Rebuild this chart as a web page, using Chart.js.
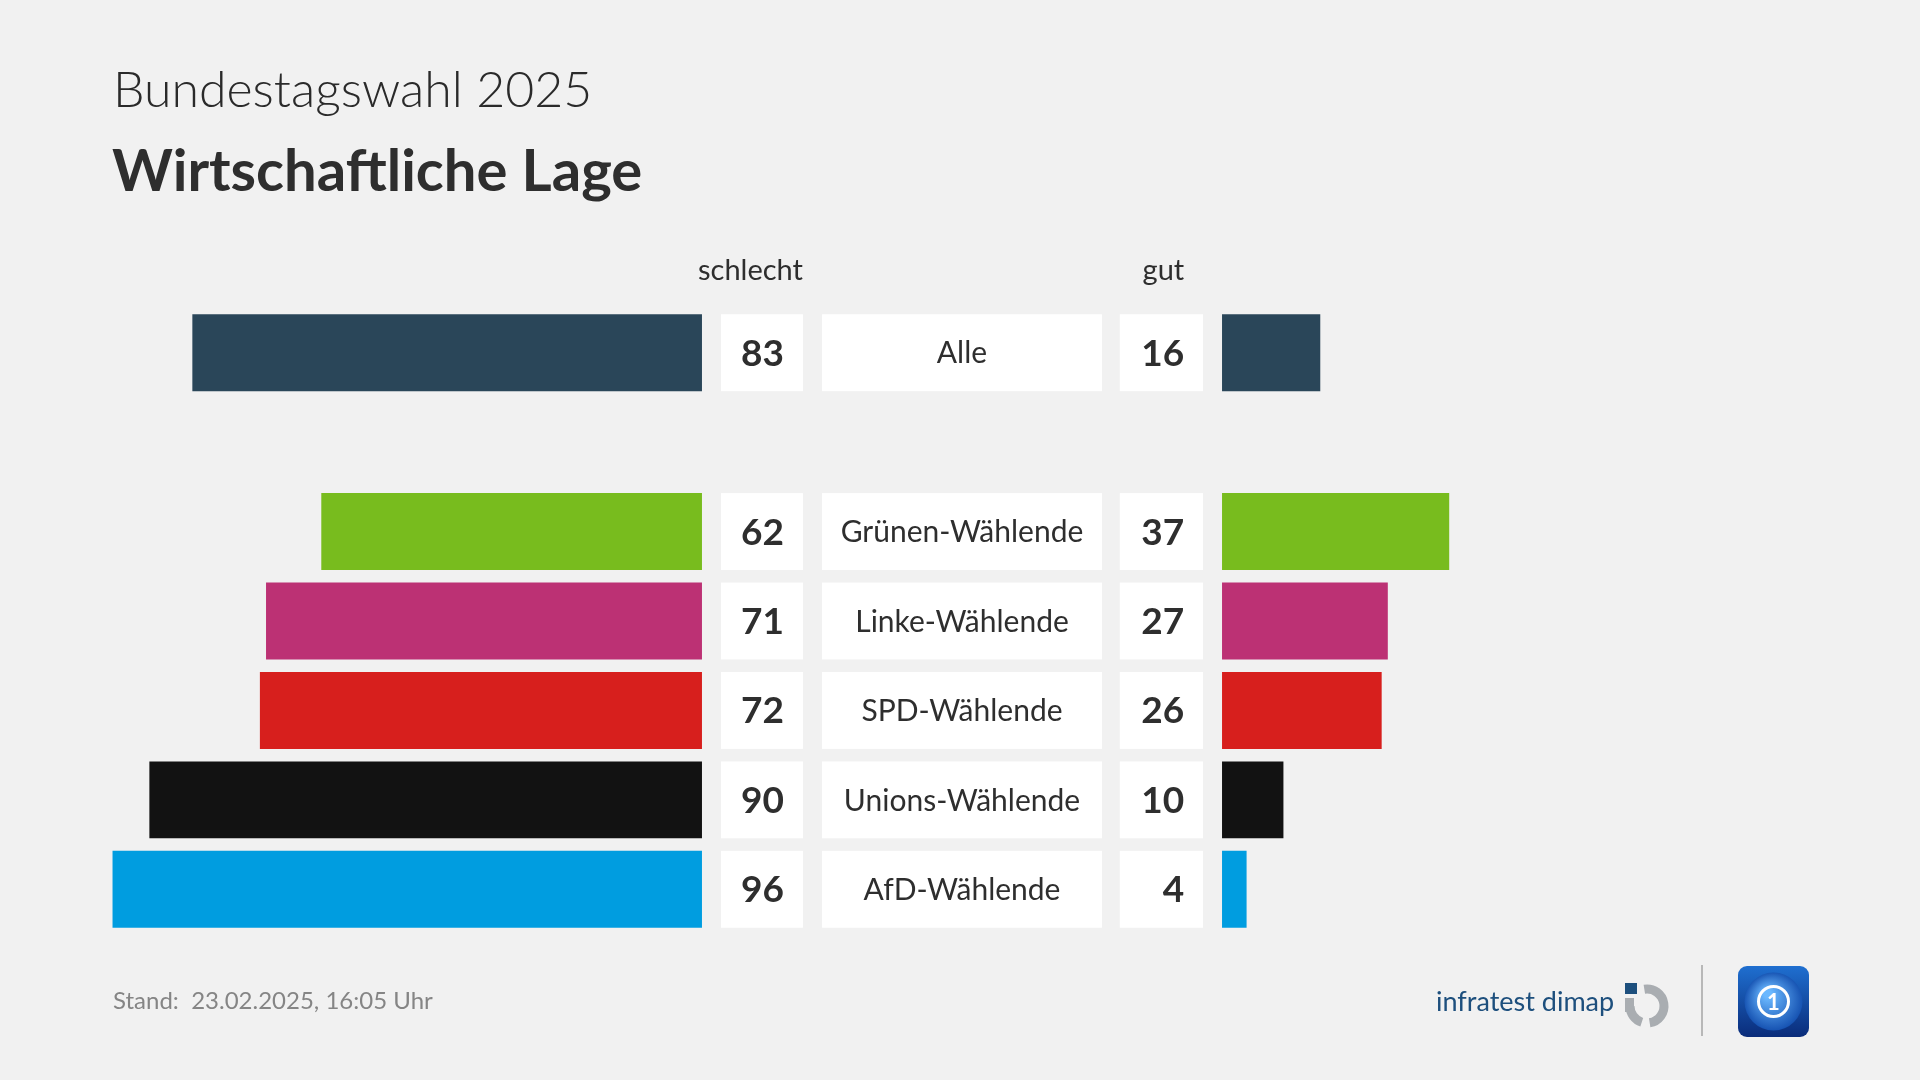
<!DOCTYPE html>
<html>
<head>
<meta charset="utf-8">
<script src="https://cdn.jsdelivr.net/npm/chart.js@4.4.1/dist/chart.umd.min.js"></script>
<style>
  html, body { margin: 0; padding: 0; background: #f1f1f1; }
  body { width: 1920px; height: 1080px; position: relative; overflow: hidden; font-family: Lato, "Open Sans", sans-serif; }
  #wrap { position: absolute; left: 0; top: 0; width: 1920px; height: 1080px; }
  .t { position: absolute; white-space: nowrap; color: #2e2e2e; }
  #sub { left: 113px; top: 58px; font-size: 50px; font-weight: 300; color: #2a2a2a; }
  #title { left: 112px; top: 134px; font-size: 58px; font-weight: 700; }
  #stand { left: 113px; top: 985px; font-size: 24px; color: #858585; }
  #infra { left: 1436px; top: 984px; font-size: 27px; color: #1d4f7d; font-weight: 400; }
</style>
</head>
<body>
<div id="wrap"><canvas id="c" width="1920" height="1080"></canvas></div>
<div class="t" id="sub">Bundestagswahl 2025</div>
<div class="t" id="title">Wirtschaftliche Lage</div>
<div class="t" id="stand">Stand:&nbsp; 23.02.2025, 16:05 Uhr</div>
<div class="t" id="infra">infratest dimap</div>
<script>
// ---- data ----
const categories = ["Alle", "", "Grünen-Wählende", "Linke-Wählende", "SPD-Wählende", "Unions-Wählende", "AfD-Wählende"];
const schlecht   = [83, null, 62, 71, 72, 90, 96];
const gut        = [16, null, 37, 27, 26, 10, 4];
const barColors  = ["#2a4659", null, "#78bc1e", "#bc3174", "#d71f1d", "#121212", "#009de0"];
const headerLeft = "schlecht";
const headerRight = "gut";

// layout constants (scale units)
const GAP = 42.35;      // half gap between left and right bars, in value units
const XMAX = 150;

const leftData  = schlecht.map(v => v == null ? null : [-GAP - v, -GAP]);
const rightData = gut.map(v => v == null ? null : [GAP, GAP + v]);

const decor = {
  id: 'decor',
  afterDatasetsDraw(chart) {
    const ctx = chart.ctx;
    const xs = chart.scales.x;
    const meta = chart.getDatasetMeta(0);
    const boxes = [
      [-39.25, -25.9], [-22.8, 22.8], [25.7, 39.25]
    ];
    ctx.save();
    meta.data.forEach((bar, i) => {
      if (schlecht[i] == null) return;
      const top = bar.y - bar.height / 2;
      const h = bar.height;
      ctx.fillStyle = '#ffffff';
      boxes.forEach(b => {
        const x0 = xs.getPixelForValue(b[0]);
        const x1 = xs.getPixelForValue(b[1]);
        ctx.fillRect(x0, top, x1 - x0, h);
      });
      ctx.fillStyle = '#2e2e2e';
      ctx.textBaseline = 'middle';
      ctx.font = '700 37px Lato, "Open Sans", sans-serif';
      ctx.textAlign = 'right';
      ctx.fillText(String(schlecht[i]), xs.getPixelForValue(-29), bar.y + 1);
      ctx.fillText(String(gut[i]), xs.getPixelForValue(36.2), bar.y + 1);
      ctx.font = '400 30px Lato, "Open Sans", sans-serif';
      ctx.textAlign = 'center';
      ctx.fillText(categories[i], xs.getPixelForValue(0), bar.y + 1);
    });
    // headers
    const y0 = meta.data[0].y - meta.data[0].height / 2 - 44;
    ctx.font = '400 29px Lato, "Open Sans", sans-serif';
    ctx.textAlign = 'right';
    ctx.fillStyle = '#2e2e2e';
    ctx.fillText(headerLeft, xs.getPixelForValue(-25.9), y0);
    ctx.fillText(headerRight, xs.getPixelForValue(36.2), y0);
    ctx.restore();
  },
  afterDraw(chart) {
    const ctx = chart.ctx;
    ctx.save();
    // infratest icon
    ctx.fillStyle = '#1d4f7d';
    ctx.fillRect(1625, 983, 12, 11);
    ctx.strokeStyle = '#a9adb1';
    ctx.lineWidth = 9;
    ctx.beginPath();
    ctx.arc(1647, 1006, 17, -Math.PI * 0.55, Math.PI * 0.45);
    ctx.stroke();
    ctx.beginPath();
    ctx.arc(1647, 1006, 17, Math.PI * 0.6, Math.PI * 1.0);
    ctx.stroke();
    ctx.fillStyle = '#a9adb1';
    ctx.fillRect(1625, 998, 9, 14);
    // separator
    ctx.strokeStyle = '#b8b8b8';
    ctx.lineWidth = 2;
    ctx.beginPath();
    ctx.moveTo(1702, 965); ctx.lineTo(1702, 1036);
    ctx.stroke();
    // tagesschau logo
    const lx = 1738, ly = 966, s = 71, r = 9;
    const g = ctx.createLinearGradient(lx, ly, lx, ly + s);
    g.addColorStop(0, '#1f6fd0'); g.addColorStop(1, '#0a2c7a');
    ctx.fillStyle = g;
    ctx.beginPath();
    ctx.roundRect(lx, ly, s, s, r);
    ctx.fill();
    const rg = ctx.createRadialGradient(lx + s / 2 - 6, ly + s / 2 - 8, 4, lx + s / 2, ly + s / 2, 30);
    rg.addColorStop(0, '#6ab8ff'); rg.addColorStop(1, '#1450b0');
    ctx.fillStyle = rg;
    ctx.beginPath(); ctx.arc(lx + s / 2, ly + s / 2, 29, 0, Math.PI * 2); ctx.fill();
    ctx.strokeStyle = '#ffffff'; ctx.lineWidth = 3;
    ctx.beginPath(); ctx.arc(lx + s / 2, ly + s / 2, 15, 0, Math.PI * 2); ctx.stroke();
    ctx.fillStyle = '#ffffff';
    ctx.font = '700 22px Lato, sans-serif';
    ctx.textAlign = 'center'; ctx.textBaseline = 'middle';
    ctx.fillText('1', lx + s / 2, ly + s / 2 + 1);
    ctx.restore();
  }
};

new Chart(document.getElementById('c'), {
  type: 'bar',
  data: {
    labels: categories,
    datasets: [
      { label: headerLeft, data: leftData, backgroundColor: barColors, grouped: false, borderWidth: 0 },
      { label: headerRight, data: rightData, backgroundColor: barColors, grouped: false, borderWidth: 0 }
    ]
  },
  options: {
    indexAxis: 'y',
    responsive: false,
    animation: false,
    maintainAspectRatio: false,
    layout: { padding: { left: 41, right: 37, top: 308, bottom: 146 } },
    barPercentage: 0.86,
    categoryPercentage: 1,
    scales: {
      x: { display: false, min: -XMAX, max: XMAX },
      y: { display: false }
    },
    plugins: { legend: { display: false }, tooltip: { enabled: false } }
  },
  plugins: [decor]
});
</script>
</body>
</html>
